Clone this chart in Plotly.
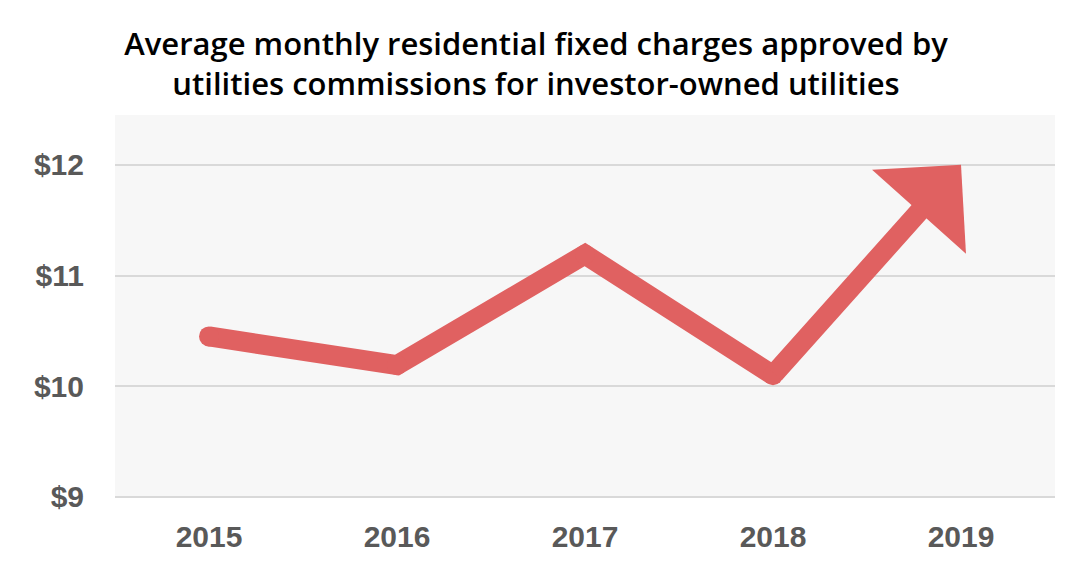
import plotly.graph_objects as go

years = ["2015", "2016", "2017", "2018", "2019"]
charges = [10.45, 10.19, 11.19, 10.1, 12.0]
tick_vals = [9, 10, 11, 12]
tick_text = ["$9", "$10", "$11", "$12"]

line_color = "#e06161"
lw = 20

fig = go.Figure()

# line up to 2018 (round joints via markers), last step drawn as an arrow
fig.add_trace(go.Scatter(
    x=years[:-1], y=charges[:-1], mode="lines+markers",
    line=dict(color=line_color, width=lw),
    marker=dict(color=line_color, size=lw, line=dict(width=0)),
    hoverinfo="skip", showlegend=False,
))

last = len(years) - 1
fig.add_annotation(
    x=last, y=charges[last], ax=last - 1, ay=charges[last - 1],
    xref="x", yref="y", axref="x", ayref="y",
    text="", showarrow=True,
    arrowhead=1, arrowsize=1.05, arrowwidth=lw, arrowcolor=line_color,
)

fig.update_layout(
    width=1082, height=573,
    margin=dict(l=107, r=35, t=107, b=83),
    paper_bgcolor="white",
    plot_bgcolor="#f7f7f7",
    title=dict(
        text="Average monthly residential fixed charges approved by<br>utilities commissions for investor-owned utilities",
        x=0.488, xanchor="center", yref="container", y=0.918, yanchor="top",
        font=dict(family="Open Sans", size=31, color="black", weight=600),
    ),
    font=dict(family="Liberation Sans", color="#595959"),
)

fig.update_xaxes(
    type="category", categoryorder="array", categoryarray=years,
    range=[-0.5, 4.5], automargin=False,
    showgrid=False, zeroline=False, showline=False,
    ticks="outside", ticklen=12, tickcolor="rgba(0,0,0,0)",
    tickfont=dict(size=30, weight="bold", color="#595959"),
)
fig.update_yaxes(
    range=[8.99, 12.45], automargin=False,
    tickvals=tick_vals, ticktext=tick_text,
    showgrid=True, gridcolor="#d9d9d9", gridwidth=1.5,
    zeroline=False, showline=False,
    ticks="outside", ticklen=24, tickcolor="rgba(0,0,0,0)",
    tickfont=dict(size=30, weight="bold", color="#595959"),
)

fig.write_html("out.html")
